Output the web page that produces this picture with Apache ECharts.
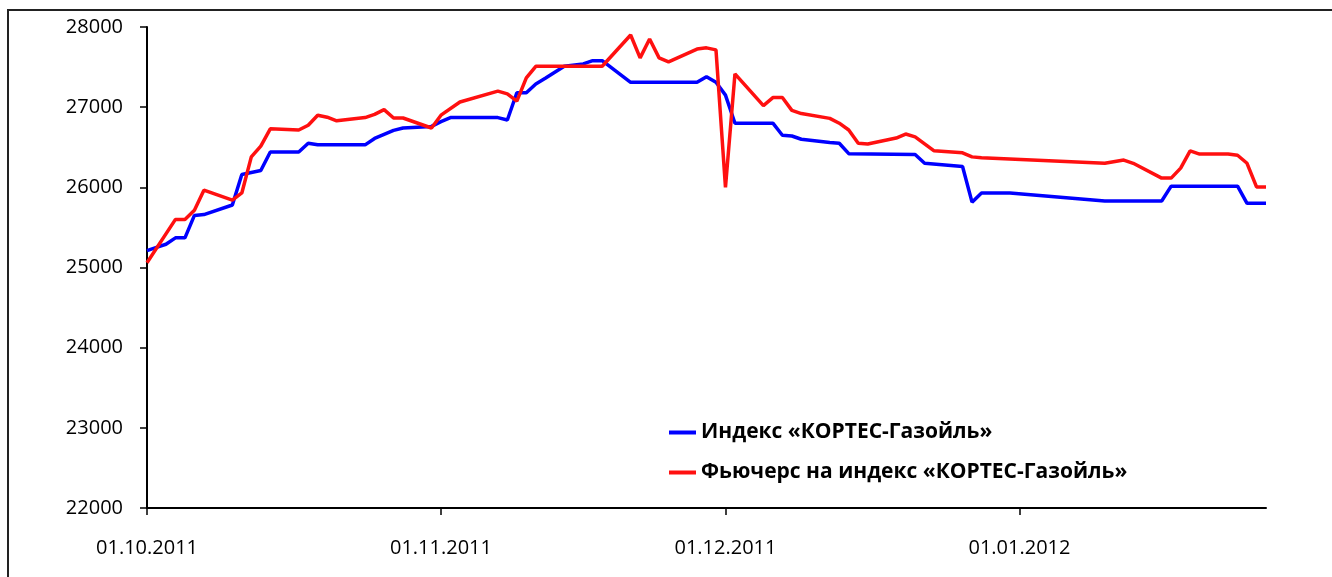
<!DOCTYPE html>
<html>
<head>
<meta charset="utf-8">
<script src="https://cdn.jsdelivr.net/npm/echarts@6/dist/echarts.min.js"></script>
</head>
<body style="margin: 0; padding: 0; background: #fff;">
<div id="chart" style="width: 1332px; height: 577px;"></div>
<script>
// Index "KORTES-Gasoil" vs futures, Oct 2011 - Jan 2012
const indexDates = ['01.10.2011','02.10.2011','03.10.2011','04.10.2011','05.10.2011','06.10.2011','07.10.2011',
  '10.10.2011','11.10.2011','13.10.2011','14.10.2011','17.10.2011','18.10.2011','19.10.2011','24.10.2011',
  '25.10.2011','27.10.2011','28.10.2011','31.10.2011','01.11.2011','02.11.2011','07.11.2011','08.11.2011',
  '09.11.2011','10.11.2011','11.11.2011','12.11.2011','14.11.2011','16.11.2011','17.11.2011','18.11.2011',
  '21.11.2011','28.11.2011','29.11.2011','30.11.2011','01.12.2011','02.12.2011','06.12.2011','07.12.2011',
  '08.12.2011','09.12.2011','12.12.2011','13.12.2011','14.12.2011','21.12.2011','22.12.2011','26.12.2011',
  '27.12.2011','28.12.2011','31.12.2011','10.01.2012','16.01.2012','17.01.2012','24.01.2012','25.01.2012',
  '27.01.2012']
const indexValues = [25210,25250,25290,25370,25370,25650,25660,
  25780,26160,26210,26440,26440,26550,26530,26530,
  26610,26710,26740,26760,26820,26870,26870,26840,
  27180,27180,27290,27360,27510,27540,27580,27580,
  27310,27310,27380,27310,27150,26800,26800,26650,
  26640,26600,26560,26550,26420,26410,26300,26260,
  25815,25930,25930,25830,25830,26015,26015,25800,
  25800]

const futDates = ['01.10.2011','04.10.2011','05.10.2011','06.10.2011','07.10.2011','10.10.2011','11.10.2011',
  '12.10.2011','13.10.2011','14.10.2011','17.10.2011','18.10.2011','19.10.2011','20.10.2011','21.10.2011',
  '24.10.2011','25.10.2011','26.10.2011','27.10.2011','28.10.2011','31.10.2011','01.11.2011','03.11.2011',
  '07.11.2011','08.11.2011','09.11.2011','10.11.2011','11.11.2011','18.11.2011','21.11.2011','22.11.2011',
  '23.11.2011','24.11.2011','25.11.2011','28.11.2011','29.11.2011','30.11.2011','01.12.2011','02.12.2011',
  '05.12.2011','06.12.2011','07.12.2011','08.12.2011','09.12.2011','12.12.2011','13.12.2011','14.12.2011',
  '15.12.2011','16.12.2011','19.12.2011','20.12.2011','21.12.2011','23.12.2011','26.12.2011','27.12.2011',
  '28.12.2011','10.01.2012','12.01.2012','13.01.2012','16.01.2012','17.01.2012','18.01.2012','19.01.2012',
  '20.01.2012','23.01.2012','24.01.2012','25.01.2012','26.01.2012','27.01.2012']
const futValues = [25060,25600,25600,25715,25965,25840,25930,
  26380,26515,26730,26715,26775,26900,26875,26830,
  26870,26910,26970,26865,26865,26740,26900,27065,
  27200,27165,27075,27365,27510,27510,27900,27615,
  27850,27615,27565,27725,27740,27715,26000,27415,
  27020,27120,27120,26960,26920,26860,26800,26715,
  26550,26540,26615,26665,26630,26455,26430,26380,
  26370,26300,26340,26300,26115,26115,26240,26455,
  26415,26415,26400,26300,26005,26005]

const monthTicks = ['01.10.2011','01.11.2011','01.12.2011','01.01.2012']
const yTicks = [22000, 23000, 24000, 25000, 26000, 27000, 28000]

const seriesNames = ['Индекс «КОРТЕС-Газойль»', 'Фьючерс на индекс «КОРТЕС-Газойль»']

const DAY = 86400000
const origin = Date.UTC(2011, 9, 1)

function toDay(s) {
  const [d, m, y] = s.split('.').map(Number)
  return Math.round((Date.UTC(y, m - 1, d) - origin) / DAY)
}

const dayToLabel = {}
monthTicks.forEach(s => { dayToLabel[toDay(s)] = s })
const tickDays = monthTicks.map(toDay)

const chart = echarts.init(document.getElementById('chart'))

chart.setOption({
  animation: false,
  backgroundColor: '#fff',
  textStyle: { fontFamily: 'Open Sans' },
  graphic: [{
    type: 'rect',
    silent: true,
    shape: { x: 8, y: 10, width: 1400, height: 700 },
    style: { fill: 'none', stroke: '#222', lineWidth: 2 }
  }],
  grid: { left: 147, right: 66, top: 27, bottom: 69 },
  legend: {
    orient: 'vertical',
    left: 664,
    top: 415,
    itemWidth: 27,
    itemHeight: 4,
    itemGap: 15,
    icon: 'rect',
    data: seriesNames,
    textStyle: { fontSize: 21, fontWeight: 'bold', color: '#000', lineHeight: 25, fontFamily: 'Open Sans' }
  },
  xAxis: {
    type: 'value',
    min: 0,
    max: toDay(indexDates[indexDates.length - 1]),
    splitLine: { show: false },
    axisLine: { lineStyle: { color: '#000', width: 2 } },
    axisTick: { show: true, length: 7, customValues: tickDays, lineStyle: { color: '#000', width: 1.5 } },
    axisLabel: {
      customValues: tickDays,
      margin: 30,
      fontSize: 20,
      color: '#000',
      formatter: v => dayToLabel[v] || ''
    }
  },
  yAxis: {
    type: 'value',
    min: yTicks[0],
    max: yTicks[yTicks.length - 1],
    interval: 1000,
    splitLine: { show: false },
    axisLine: { show: true, lineStyle: { color: '#000', width: 2 } },
    axisTick: { show: true, length: 7, lineStyle: { color: '#000', width: 1.5 } },
    axisLabel: { margin: 24, fontSize: 20, color: '#000', formatter: v => String(v) }
  },
  series: [
    {
      name: seriesNames[0],
      type: 'line',
      showSymbol: false,
      color: '#0000FF',
      lineStyle: { width: 3.5, color: '#0000FF' },
      data: indexDates.map((d, i) => [toDay(d), indexValues[i]]),
      z: 2
    },
    {
      name: seriesNames[1],
      type: 'line',
      showSymbol: false,
      color: '#FF1010',
      lineStyle: { width: 3.5, color: '#FF1010' },
      data: futDates.map((d, i) => [toDay(d), futValues[i]]),
      z: 3
    }
  ]
})
</script>
</body>
</html>
